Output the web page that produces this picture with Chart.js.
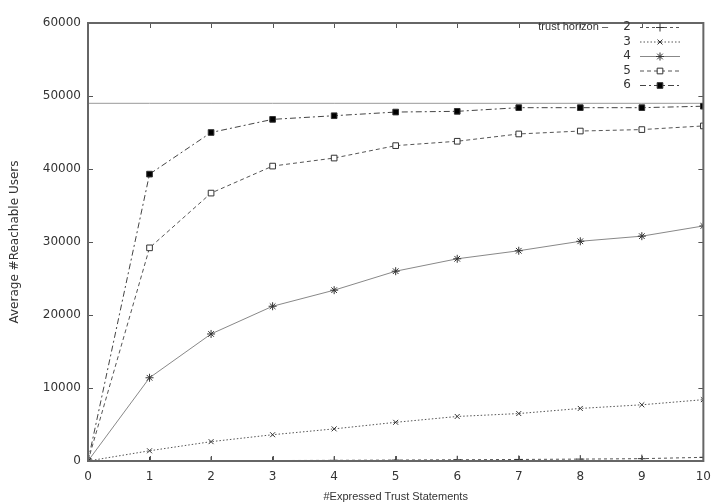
<!DOCTYPE html>
<html>
<head>
<meta charset="utf-8">
<script src="https://cdn.jsdelivr.net/npm/chart.js@4"></script>
<style>
  html, body { margin: 0; padding: 0; background: #fff; }
  #wrap { width: 720px; height: 504px; }
</style>
</head>
<body>
<div id="wrap"><canvas id="myChart" width="720" height="504"></canvas></div>
<script>
// values
const steps = [0, 1, 2, 3, 4, 5, 6, 7, 8, 9, 10];
const horizonLabels = ['2', '3', '4', '5', '6'];
const horizon2 = [0, 20, 40, 60, 90, 130, 170, 210, 260, 320, 500];
const horizon3 = [0, 1400, 2650, 3600, 4400, 5300, 6100, 6500, 7200, 7700, 8400];
const horizon4 = [0, 11400, 17400, 21200, 23400, 26000, 27700, 28800, 30100, 30800, 32200];
const horizon5 = [0, 29200, 36700, 40400, 41500, 43200, 43800, 44800, 45200, 45400, 45900];
const horizon6 = [0, 39300, 45000, 46800, 47300, 47800, 47900, 48400, 48400, 48400, 48600];
const totalUsers = 49000;
const yTicks = [0, 10000, 20000, 30000, 40000, 50000, 60000];

const ctx = document.getElementById('myChart');
const txt = '#333';
const fontFam = '"Liberation Sans", Arial, sans-serif';
const tickFam = '"DejaVu Sans", sans-serif';

function pts(arr) {
  return arr.map((v, i) => ({ x: steps[i], y: v }));
}

const styles = [
  { dash: [3, 3], pointStyle: 'cross', fill: '#444', color: '#555', r: 4 },
  { dash: [1.5, 2], pointStyle: 'crossRot', fill: '#444', color: '#555', r: 3.5 },
  { dash: [], pointStyle: 'star', fill: '#444', color: '#888', r: 4 },
  { dash: [4, 3], pointStyle: 'rect', fill: '#fff', color: '#555', r: 4 },
  { dash: [6, 3, 2, 3], pointStyle: 'rect', fill: '#000', color: '#444', r: 4 }
];
const series = [horizon2, horizon3, horizon4, horizon5, horizon6];

const datasets = series.map((arr, i) => ({
  label: horizonLabels[i],
  data: pts(arr),
  borderColor: styles[i].color,
  borderWidth: 1,
  borderDash: styles[i].dash,
  pointStyle: styles[i].pointStyle,
  pointRadius: styles[i].r,
  pointBorderColor: '#333',
  pointBackgroundColor: styles[i].fill,
  pointBorderWidth: 1,
  tension: 0
}));

datasets.push({
  label: 'total',
  data: pts(steps.map(() => totalUsers)),
  borderColor: '#999',
  borderWidth: 1,
  pointRadius: 0,
  isRef: true
});

// gnuplot-like frame, inward ticks and key
const gnuplotLook = {
  id: 'gnuplotLook',
  afterDraw(chart) {
    const c = chart.ctx;
    const a = chart.chartArea;
    const xs = chart.scales.x, ys = chart.scales.y;
    c.save();
    c.strokeStyle = '#555';
    c.lineWidth = 1;
    c.setLineDash([]);
    c.beginPath();
    steps.forEach(v => {
      const px = Math.round(xs.getPixelForValue(v)) + 0.5;
      c.moveTo(px, a.bottom); c.lineTo(px, a.bottom - 5);
      c.moveTo(px, a.top); c.lineTo(px, a.top + 5);
    });
    yTicks.forEach(v => {
      const py = Math.round(ys.getPixelForValue(v)) + 0.5;
      c.moveTo(a.left, py); c.lineTo(a.left + 5, py);
      c.moveTo(a.right, py); c.lineTo(a.right - 5, py);
    });
    c.stroke();
    c.strokeStyle = '#666';
    c.lineWidth = 2;
    c.strokeRect(a.left, a.top, a.right - a.left, a.bottom - a.top);

    // key
    c.font = '11px ' + fontFam;
    c.fillStyle = txt;
    c.textAlign = 'right';
    c.textBaseline = 'middle';
    const textRight = 631, x0 = 640, x1 = 680;
    c.fillText('trust horizon \u2013', 608, 27);
    c.font = '12px ' + tickFam;
    chart.data.datasets.forEach((ds, i) => {
      if (ds.isRef) return;
      const y = 27 + i * 14.5;
      c.fillStyle = txt;
      c.fillText(ds.label, textRight, y);
      c.strokeStyle = ds.borderColor;
      c.lineWidth = 1;
      c.setLineDash(ds.borderDash);
      c.beginPath();
      c.moveTo(x0, y + 0.5); c.lineTo(x1, y + 0.5);
      c.stroke();
      c.setLineDash([]);
      c.strokeStyle = '#333';
      c.fillStyle = ds.pointBackgroundColor;
      Chart.helpers.drawPoint(c, { pointStyle: ds.pointStyle, radius: ds.pointRadius, rotation: 0, borderWidth: 1 }, (x0 + x1) / 2, y + 0.5);
    });
    c.restore();
  }
};

new Chart(ctx, {
  type: 'line',
  data: { datasets: datasets },
  options: {
    responsive: false,
    animation: false,
    layout: { padding: { left: 8, right: 13, top: 23, bottom: 0 } },
    plugins: {
      legend: { display: false },
      tooltip: { enabled: false }
    },
    scales: {
      x: {
        type: 'linear',
        min: 0,
        max: 10,
        afterFit: s => { s.height = 43; },
        afterBuildTicks: s => { s.ticks = steps.map(v => ({ value: v })); },
        grid: { display: false, drawTicks: false },
        border: { display: false },
        ticks: { color: txt, font: { family: tickFam, size: 12 }, padding: 9, callback: v => String(v) },
        title: {
          display: true,
          text: '#Expressed Trust Statements',
          color: txt,
          font: { family: fontFam, size: 11 },
          padding: { top: 2, bottom: 0 }
        }
      },
      y: {
        min: 0,
        max: 60000,
        afterFit: s => { s.width = 80; },
        afterBuildTicks: s => { s.ticks = yTicks.map(v => ({ value: v })); },
        grid: { display: false, drawTicks: false },
        border: { display: false },
        ticks: { color: txt, font: { family: tickFam, size: 12 }, padding: 7, callback: v => String(v) },
        title: {
          display: true,
          text: 'Average #Reachable Users',
          color: txt,
          font: { family: tickFam, size: 12 },
          padding: { top: 0, bottom: 10 }
        }
      }
    }
  },
  plugins: [gnuplotLook]
});
</script>
</body>
</html>
